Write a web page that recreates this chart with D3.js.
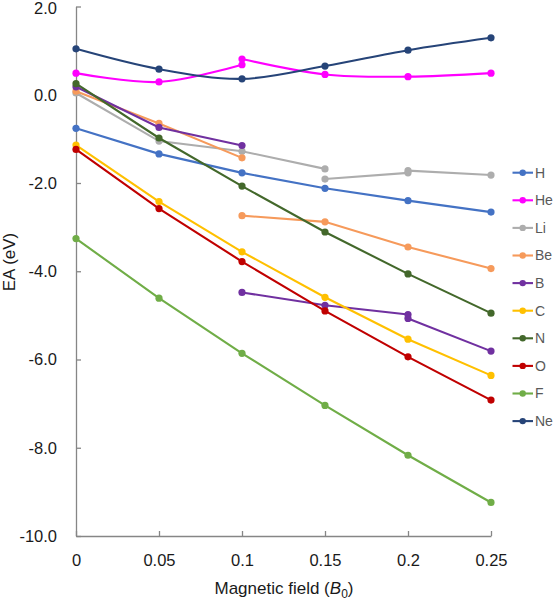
<!DOCTYPE html>
<html>
<head>
<meta charset="utf-8">
<script src="https://cdn.jsdelivr.net/npm/d3@7"></script>
<style>
  body { margin: 0; background: #fff; }
  svg { display: block; font-family: "Liberation Sans", Arial, sans-serif; }
</style>
</head>
<body>
<svg id="chart" width="555" height="600"></svg>
<script>
// Magnetic field values (B0)
const fields = [0, 0.05, 0.1, 0.15, 0.2, 0.25];
const yTicks = [-10, -8, -6, -4, -2, 0, 2];
const elements = ["H", "He", "Li", "Be", "B", "C", "N", "O", "F", "Ne"];
const colors = ["#4472C4", "#FF00FF", "#ADADAD", "#F69A5B", "#7030A0", "#FFC000", "#43682B", "#C00000", "#70AD47", "#264478"];
const smoothed = ["He", "Ne"];

// Each element: list of segments, values aligned with `fields` (null = no point)
const H  = [[-0.76, -1.34, -1.77, -2.12, -2.40, -2.66]];
const He = [[0.49, 0.29, 0.68, null, null, null],
            [null, null, 0.81, 0.46, 0.41, 0.49]];
const Li = [[0.04, -1.05, -1.28, -1.68, null, null],
            [null, null, null, -1.91, -1.77, null],
            [null, null, null, null, -1.72, -1.82]];
const Be = [[0.08, -0.65, -1.43, null, null, null],
            [null, null, -2.74, -2.88, -3.45, -3.94]];
const B  = [[0.18, -0.74, -1.15, null, null, null],
            [null, null, -4.48, -4.77, -4.98, null],
            [null, null, null, null, -5.07, -5.81]];
const C  = [[-1.14, -2.42, -3.56, -4.59, -5.54, -6.36]];
const N  = [[0.25, -0.98, -2.07, -3.11, -4.06, -4.95]];
const O  = [[-1.24, -2.58, -3.78, -4.90, -5.94, -6.92]];
const F  = [[-3.26, -4.61, -5.86, -7.04, -8.17, -9.24]];
const Ne = [[1.04, 0.58, 0.36, 0.65, 1.01, 1.29]];

const seriesData = { H, He, Li, Be, B, C, N, O, F, Ne };

const svg = d3.select("#chart");
const x = d3.scaleLinear().domain([0, 0.25]).range([76, 491]);
const y = d3.scaleLinear().domain([-10, 2]).range([536, 6.5]);
const axisColor = "#868686";
const textColor = "#1a1a1a";
const fmtY = d => d.toFixed(1);

// Y axis
const yAxis = svg.append("g").attr("transform", `translate(${x(0)},0)`)
  .call(d3.axisLeft(y).tickValues(yTicks).tickFormat(fmtY).tickSizeInner(-5).tickSizeOuter(0).tickPadding(19));
yAxis.select(".domain").attr("stroke", axisColor).attr("stroke-width", 1.3);
yAxis.selectAll(".tick line").attr("stroke", axisColor).attr("stroke-width", 1.3);
yAxis.selectAll(".tick text").attr("fill", textColor).attr("font-size", 16.5)
  .attr("font-family", "Liberation Sans, Arial, sans-serif")
  .attr("dy", d => d === 2 ? "0.45em" : "0.32em");

// X axis
const xAxis = svg.append("g").attr("transform", `translate(0,${y(-10)})`)
  .call(d3.axisBottom(x).tickValues(fields).tickFormat(d => String(d)).tickSizeInner(-5).tickSizeOuter(0).tickPadding(18));
xAxis.select(".domain").attr("stroke", axisColor).attr("stroke-width", 1.3);
xAxis.selectAll(".tick line").attr("stroke", axisColor).attr("stroke-width", 1.3);
xAxis.selectAll(".tick text").attr("fill", textColor).attr("font-size", 16.5).attr("font-family", "Liberation Sans, Arial, sans-serif");

// Axis titles
svg.append("text")
  .attr("transform", "translate(15,262) rotate(-90)")
  .attr("text-anchor", "middle")
  .attr("font-size", 17).attr("fill", textColor)
  .text("EA (eV)");

const xt = svg.append("text")
  .attr("x", 284).attr("y", 594)
  .attr("text-anchor", "middle")
  .attr("font-size", 17).attr("fill", textColor);
xt.append("tspan").text("Magnetic field (");
xt.append("tspan").attr("font-style", "italic").text("B");
xt.append("tspan").attr("font-size", 12).attr("dy", 4).text("0");
xt.append("tspan").attr("dy", -4).text(")");

// Lines and markers
const plot = svg.append("g");
elements.forEach((el, i) => {
  const col = colors[i];
  const curve = smoothed.includes(el) ? d3.curveCatmullRom.alpha(0) : d3.curveLinear;
  const line = d3.line()
    .x(d => x(d[0])).y(d => y(d[1])).curve(curve);
  seriesData[el].forEach(seg => {
    const pts = fields.map((f, k) => [f, seg[k]]).filter(p => p[1] !== null);
    plot.append("path").datum(pts)
      .attr("d", line).attr("fill", "none")
      .attr("stroke", col).attr("stroke-width", 2.1);
    plot.selectAll(null).data(pts).enter().append("circle")
      .attr("cx", d => x(d[0])).attr("cy", d => y(d[1]))
      .attr("r", 3.6).attr("fill", col);
  });
});

// Legend
const legend = svg.append("g");
elements.forEach((el, i) => {
  const ly = 172.7 + i * 27.6;
  const g = legend.append("g").attr("transform", `translate(0,${ly})`);
  g.append("line").attr("x1", 512.5).attr("x2", 533).attr("y1", 0).attr("y2", 0)
    .attr("stroke", colors[i]).attr("stroke-width", 2.1);
  g.append("circle").attr("cx", 522.7).attr("cy", 0).attr("r", 3.2).attr("fill", colors[i]);
  g.append("text").attr("x", 535).attr("y", 0).attr("dy", "0.35em")
    .attr("font-size", 14).attr("fill", "#595959").text(el);
});
</script>
</body>
</html>
